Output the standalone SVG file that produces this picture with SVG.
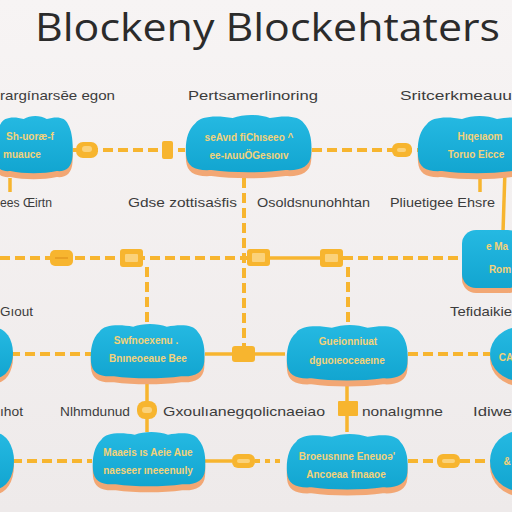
<svg xmlns="http://www.w3.org/2000/svg" xmlns:xlink="http://www.w3.org/1999/xlink" width="512" height="512" viewBox="0 0 512 512">
<defs>
<linearGradient id="bg" x1="0" y1="0" x2="0" y2="1">
<stop offset="0" stop-color="#f7f4f4"/>
<stop offset="1" stop-color="#eeeaea"/>
</linearGradient>
<linearGradient id="nodeFill" x1="0" y1="0" x2="0" y2="1">
<stop offset="0" stop-color="#25b9e2"/>
<stop offset="1" stop-color="#12a5d0"/>
</linearGradient>
<path id="blob" d="M10,10 C14,3 30,2 45,5 C55,1 70,1 80,5 C95,2 108,3 112,10 C119,18 120,30 119,42 C118,54 108,58 95,57 C75,60 45,60 25,57 C10,58 2,54 1,42 C0,30 2,17 10,10 Z"/>
<style>
.title{font-family:"Open Sans","Noto Sans",sans-serif;font-size:39px;fill:#2b2b2b}
.lbl{font-family:"Liberation Sans","DejaVu Sans",sans-serif;font-size:13px;fill:#3c3c3c}
.nt{font-family:"Liberation Sans","DejaVu Sans",sans-serif;font-size:10px;font-weight:bold;fill:#f3d27a;text-anchor:middle}
.shadow{fill:#f2a774}
.body{fill:url(#nodeFill)}
.dash{stroke:#f7b52f;stroke-width:4;fill:none;stroke-dasharray:10 5}
.dot{stroke:#f7b52f;stroke-width:4;fill:none;stroke-dasharray:5 5}
.solid{stroke:#f7b52f;stroke-width:3.5;fill:none}
.box{fill:#f7b52f}
.inner{fill:#fbd27a}
</style>
</defs>
<rect width="512" height="512" fill="url(#bg)"/>
<text class="title" x="35" y="41" textLength="465" lengthAdjust="spacingAndGlyphs">Blockeny Blockehtaters</text>

<g id="labels">
<text class="lbl" x="0" y="100" textLength="115" lengthAdjust="spacingAndGlyphs">rargínarsēe egon</text>
<text class="lbl" x="188" y="100" textLength="130" lengthAdjust="spacingAndGlyphs">Pertsamerlinoring</text>
<text class="lbl" x="400" y="100" textLength="112" lengthAdjust="spacingAndGlyphs">Sritcerkmeauu</text>
<text class="lbl" x="0" y="207" textLength="52" lengthAdjust="spacingAndGlyphs">ees Œirtn</text>
<text class="lbl" x="128" y="207" textLength="109" lengthAdjust="spacingAndGlyphs">Gdse zottisaṡfis</text>
<text class="lbl" x="257" y="207" textLength="113" lengthAdjust="spacingAndGlyphs">Osoldsnunohhtan</text>
<text class="lbl" x="390" y="207" textLength="105" lengthAdjust="spacingAndGlyphs">Pliuetigee Ehsre</text>
<text class="lbl" x="0" y="316" textLength="33" lengthAdjust="spacingAndGlyphs">Gıout</text>
<text class="lbl" x="450" y="316" textLength="62" lengthAdjust="spacingAndGlyphs">Tefidaikie</text>
<text class="lbl" x="0" y="416" textLength="23" lengthAdjust="spacingAndGlyphs">ıhot</text>
<text class="lbl" x="60" y="416" textLength="70" lengthAdjust="spacingAndGlyphs">Nlhmdunud</text>
<text class="lbl" x="163" y="416" textLength="162" lengthAdjust="spacingAndGlyphs">Gxoulıanegqolicnaeiao</text>
<text class="lbl" x="362" y="416" textLength="81" lengthAdjust="spacingAndGlyphs">nonalıgmne</text>
<text class="lbl" x="473" y="416" textLength="39" lengthAdjust="spacingAndGlyphs">Idiwe</text>
</g>

<g id="connectors">
<line class="dash" x1="73" y1="150" x2="185" y2="150"/>
<rect class="box" x="76" y="142" width="22" height="16" rx="7"/>
<rect class="inner" x="82" y="146" width="10" height="6" rx="3"/>
<rect class="box" x="162" y="141" width="11" height="18" rx="2"/>
<line class="dash" x1="312" y1="150" x2="418" y2="150"/>
<rect class="box" x="392" y="143" width="20" height="14" rx="6"/>
<rect class="inner" x="397" y="148" width="9" height="4" rx="2"/>
<line class="solid" x1="10" y1="178" x2="10" y2="192"/>
<line class="dash" x1="244" y1="178" x2="244" y2="346"/>
<line class="solid" x1="480" y1="178" x2="480" y2="192"/>
<line class="solid" x1="505" y1="170" x2="503" y2="232"/>

<line class="dash" x1="0" y1="258" x2="247" y2="258"/>
<line class="solid" x1="270" y1="258" x2="320" y2="258"/>
<line class="dash" x1="343" y1="258" x2="462" y2="258"/>
<rect class="box" x="50" y="250" width="23" height="16" rx="5"/>
<line x1="55" y1="258" x2="68" y2="258" stroke="#e49a20" stroke-width="1.5"/>
<rect class="box" x="120" y="249" width="23" height="18" rx="3"/>
<rect class="inner" x="125" y="254" width="13" height="8" rx="1"/>
<rect class="box" x="247" y="249" width="23" height="17" rx="3"/>
<rect class="inner" x="252" y="253" width="13" height="9" rx="1"/>
<rect class="box" x="320" y="249" width="23" height="18" rx="3"/>
<rect class="inner" x="325" y="254" width="13" height="8" rx="1"/>
<line class="dash" x1="147" y1="267" x2="147" y2="325"/>
<line class="dash" x1="348" y1="267" x2="348" y2="325"/>

<line class="dash" x1="10" y1="354" x2="92" y2="354"/>
<line class="solid" x1="205" y1="354" x2="232" y2="354"/>
<rect class="box" x="232" y="346" width="23" height="16" rx="3"/>
<line class="solid" x1="255" y1="354" x2="285" y2="354"/>
<line class="dash" x1="408" y1="354" x2="490" y2="354"/>

<line class="solid" x1="147" y1="380" x2="147" y2="432"/>
<rect class="box" x="137" y="401" width="20" height="18" rx="8"/>
<rect class="inner" x="142" y="407" width="10" height="6" rx="3"/>
<line class="solid" x1="347" y1="384" x2="347" y2="432"/>
<rect class="box" x="338" y="401" width="20" height="15" rx="1"/>

<line class="dash" x1="12" y1="461" x2="92" y2="461"/>
<line class="solid" x1="205" y1="461" x2="232" y2="461"/>
<rect class="box" x="232" y="454" width="23" height="14" rx="6"/>
<rect class="inner" x="237" y="459" width="13" height="4" rx="2"/>
<line class="dot" x1="255" y1="461" x2="285" y2="461"/>
<line class="dash" x1="408" y1="461" x2="437" y2="461"/>
<rect class="box" x="437" y="454" width="23" height="14" rx="6"/>
<rect class="inner" x="442" y="459" width="13" height="4" rx="2"/>
<line class="dash" x1="460" y1="461" x2="490" y2="461"/>
</g>

<g id="node-a">
<use xlink:href="#blob" class="shadow" transform="translate(-6,120) scale(0.66,1.0)"/>
<use xlink:href="#blob" class="body" transform="translate(-6,114) scale(0.66,1.0)"/>
<text class="nt" x="30" y="140">Sh-uoræ-f</text>
<text class="nt" x="22" y="158">muauce</text>
</g>
<g id="node-b">
<use xlink:href="#blob" class="shadow" transform="translate(185,119) scale(1.06,1.0)"/>
<use xlink:href="#blob" class="body" transform="translate(185,113) scale(1.06,1.0)"/>
<text class="nt" x="249" y="141">seAvıd fiChıseeo ^</text>
<text class="nt" x="249" y="159">ee-ıʌuuÖGesıoıv</text>
</g>
<g id="node-c">
<use xlink:href="#blob" class="shadow" transform="translate(417,120) scale(1.0,1.0)"/>
<use xlink:href="#blob" class="body" transform="translate(417,114) scale(1.0,1.0)"/>
<text class="nt" x="480" y="140">Hıqeıaom</text>
<text class="nt" x="476" y="158">Toruo Eicce</text>
</g>
<g id="node-d">
<rect x="462" y="235" width="60" height="58" rx="14" class="shadow"/>
<rect x="462" y="230" width="60" height="58" rx="14" class="body"/>
<text class="nt" x="497" y="250">e Ma</text>
<text class="nt" x="500" y="273">Rom</text>
</g>
<g id="node-e">
<use xlink:href="#blob" class="shadow" transform="translate(90,328) scale(0.96,0.95)"/>
<use xlink:href="#blob" class="body" transform="translate(90,322) scale(0.96,0.95)"/>
<text class="nt" x="146" y="344">Swfnoexenu .</text>
<text class="nt" x="148" y="362">Bnıneoeaue Bee</text>
</g>
<g id="node-f">
<use xlink:href="#blob" class="shadow" transform="translate(286,329) scale(1.02,0.97)"/>
<use xlink:href="#blob" class="body" transform="translate(286,323) scale(1.02,0.97)"/>
<text class="nt" x="348" y="345">Gueionniuat</text>
<text class="nt" x="347" y="364">dguoıeoceaeıne</text>
</g>
<g id="node-g">
<use xlink:href="#blob" class="shadow" transform="translate(92,436) scale(0.95,0.95)"/>
<use xlink:href="#blob" class="body" transform="translate(92,430) scale(0.95,0.95)"/>
<text class="nt" x="148" y="456">Maaeis ıs Aeie Aue</text>
<text class="nt" x="148" y="474">naeseer ıneeenuıly</text>
</g>
<g id="node-h">
<use xlink:href="#blob" class="shadow" transform="translate(286,438) scale(1.02,0.97)"/>
<use xlink:href="#blob" class="body" transform="translate(286,432) scale(1.02,0.97)"/>
<text class="nt" x="347" y="460">Broeusnıne Eneuoə'</text>
<text class="nt" x="346" y="478">Ancoeaa fınaaoe</text>
</g>
<g id="node-left3">
<ellipse cx="-4" cy="358" rx="17" ry="25" class="shadow"/>
<ellipse cx="-4" cy="353" rx="17" ry="25" class="body"/>
</g>
<g id="node-left4">
<ellipse cx="-4" cy="466" rx="18" ry="28" class="shadow"/>
<ellipse cx="-4" cy="461" rx="18" ry="28" class="body"/>
</g>
<g id="node-right3">
<ellipse cx="520" cy="359" rx="30" ry="27" class="shadow"/>
<ellipse cx="520" cy="354" rx="30" ry="27" class="body"/>
<text class="nt" x="506" y="361">CA</text>
</g>
<g id="node-right4">
<ellipse cx="520" cy="466" rx="30" ry="30" class="shadow"/>
<ellipse cx="520" cy="461" rx="30" ry="30" class="body"/>
<text class="nt" x="507" y="465">&amp;</text>
</g>
</svg>
